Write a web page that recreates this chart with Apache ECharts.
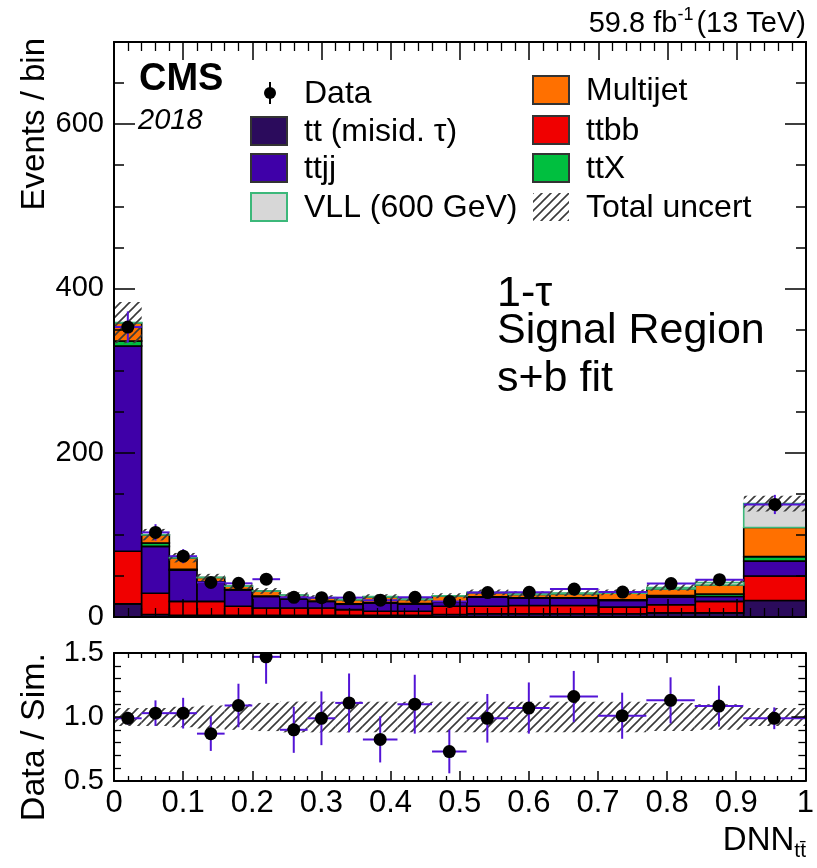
<!DOCTYPE html>
<html>
<head>
<meta charset="utf-8">
<script src="https://cdn.jsdelivr.net/npm/echarts@6/dist/echarts.min.js"></script>
<style>
  html, body { margin: 0; padding: 0; background: #ffffff; }
  #chart { width: 817px; height: 868px; }
</style>
</head>
<body>
<div id="chart"></div>
<script>
// ---- binning of the DNN output ----
const binEdges = [0, 0.04, 0.08, 0.12, 0.16, 0.20, 0.24, 0.28, 0.32, 0.36, 0.41, 0.46, 0.51, 0.57, 0.63, 0.70, 0.77, 0.84, 0.91, 1.0];

// ---- post-fit yields per bin (events / bin), stacked bottom to top ----
const ttMisid  = [16, 3, 2, 2, 2, 2, 2, 2, 2, 2, 2, 3, 4, 4, 4, 4, 5, 5, 20];
const ttbb     = [64, 26, 17, 17, 11, 9, 9, 9, 7, 5, 5, 10, 9, 10, 10, 8, 10, 14, 30];
const ttjj     = [250, 57, 38, 23, 20, 14, 11, 8, 6.5, 10, 9, 5, 11, 9, 9, 8, 9, 6, 18];
const ttX      = [6, 4, 1, 1, 0.5, 0.5, 0.5, 0.5, 0.5, 0.5, 0.5, 0.5, 0.5, 0.5, 0.5, 1, 2, 3, 5.5];
const multijet = [22, 10, 14, 5, 4, 6, 4, 4, 5, 7, 5, 7, 5, 4, 5, 8, 8, 11, 35.5];
const vll600   = [0.5, 0.2, 0.2, 0.2, 0.2, 0.2, 0.2, 0.2, 0.3, 0.3, 0.3, 0.3, 0.5, 0.5, 0.7, 1, 2, 3, 29];

// ---- observed data ----
const dataCounts = [353, 103, 74, 42, 41, 46, 24, 23.5, 23.6, 20.5, 24, 19, 29.7, 30, 34, 30.3, 40.7, 45.5, 137];
const dataErrors = [19, 10, 8.6, 6.5, 6.4, 6.8, 4.9, 4.9, 4.9, 4.5, 4.9, 4.4, 5.5, 5.5, 5.8, 5.5, 6.4, 6.7, 11.7];

// ---- relative total uncertainty of the prediction ----
const totalUncert = [0.07, 0.07, 0.08, 0.09, 0.10, 0.11, 0.12, 0.12, 0.12, 0.12, 0.12, 0.12, 0.12, 0.12, 0.12, 0.12, 0.11, 0.10, 0.07];

// ---- data / simulation ratio ----
const ratioValues = [0.99, 1.03, 1.03, 0.87, 1.09, 1.47, 0.90, 0.99, 1.11, 0.825, 1.10, 0.73, 0.99, 1.07, 1.16, 1.01, 1.13, 1.085, 0.99];
const ratioErrors = [0.05, 0.10, 0.12, 0.135, 0.17, 0.21, 0.18, 0.21, 0.23, 0.18, 0.23, 0.17, 0.19, 0.20, 0.20, 0.18, 0.18, 0.16, 0.085];

// ---- axis ticks ----
const mainYTicks = [0, 200, 400, 600];
const ratioYTicks = [0.5, 1.0, 1.5];

const FONT = '"Liberation Sans", Arial, Helvetica, sans-serif';
const ERR_COLOR = '#5314d6';

const processes = [
  { name: 'tt (misid. \u03c4)', values: ttMisid,  fill: '#2b0b5c', stroke: '#000000' },
  { name: 'ttbb',              values: ttbb,     fill: '#f00000', stroke: '#000000' },
  { name: 'ttjj',              values: ttjj,     fill: '#3f00a8', stroke: '#000000' },
  { name: 'ttX',               values: ttX,      fill: '#00bf3f', stroke: '#000000' },
  { name: 'Multijet',          values: multijet, fill: '#ff7000', stroke: '#000000' },
  { name: 'VLL (600 GeV)',     values: vll600,   fill: '#d7d7d7', stroke: '#3cb87a' }
];

const nBins = binEdges.length - 1;
const binLo = i => binEdges[i];
const binHi = i => binEdges[i + 1];
const binMid = i => (binEdges[i] + binEdges[i + 1]) / 2;

// hatch pattern for uncertainty bands ("////")
function makeHatch() {
  const s = 9;
  const c = document.createElement('canvas');
  c.width = s; c.height = s;
  const g = c.getContext('2d');
  g.strokeStyle = '#3a3a3a';
  g.lineWidth = 1.6;
  g.beginPath();
  g.moveTo(-1, s + 1); g.lineTo(s + 1, -1);
  g.moveTo(-1, 1); g.lineTo(1, -1);
  g.moveTo(s - 1, s + 1); g.lineTo(s + 1, s - 1);
  g.stroke();
  return c;
}
const hatchFill = { image: makeHatch(), repeat: 'repeat' };

function rectRenderer(fill, stroke, lineWidth) {
  return function (params, api) {
    const p0 = api.coord([api.value(0), api.value(3)]);
    const p1 = api.coord([api.value(1), api.value(2)]);
    return {
      type: 'rect',
      shape: { x: p0[0], y: p0[1], width: p1[0] - p0[0], height: p1[1] - p0[1] },
      style: { fill: fill, stroke: stroke, lineWidth: lineWidth }
    };
  };
}

function pointRenderer(params, api) {
  const xl = api.value(0), xh = api.value(1), xc = api.value(2);
  const y = api.value(3), e = api.value(4);
  const pl = api.coord([xl, y]), ph = api.coord([xh, y]);
  const pt = api.coord([xc, y + e]), pb = api.coord([xc, y - e]);
  const pc = api.coord([xc, y]);
  return {
    type: 'group',
    children: [
      { type: 'line', shape: { x1: pl[0], y1: pl[1], x2: ph[0], y2: ph[1] }, style: { stroke: ERR_COLOR, lineWidth: 2 } },
      { type: 'line', shape: { x1: pt[0], y1: pt[1], x2: pb[0], y2: pb[1] }, style: { stroke: ERR_COLOR, lineWidth: 2 } },
      { type: 'circle', shape: { cx: pc[0], cy: pc[1], r: 6.5 }, style: { fill: '#000000' } }
    ]
  };
}

// ---- build series ----
const series = [];
const base = new Array(nBins).fill(0);
processes.forEach(p => {
  const rows = [];
  for (let i = 0; i < nBins; i++) {
    rows.push([binLo(i), binHi(i), base[i], base[i] + p.values[i]]);
    base[i] += p.values[i];
  }
  series.push({
    type: 'custom', name: p.name, xAxisIndex: 0, yAxisIndex: 0,
    renderItem: rectRenderer(p.fill, p.stroke, 1.6),
    encode: { x: [0, 1], y: [2, 3] }, data: rows, z: 2, clip: true
  });
});
const totals = base.slice();

series.push({
  type: 'custom', name: 'Total uncert', xAxisIndex: 0, yAxisIndex: 0,
  renderItem: rectRenderer(hatchFill, null, 0),
  encode: { x: [0, 1], y: [2, 3] },
  data: totals.map((t, i) => [binLo(i), binHi(i), t * (1 - totalUncert[i]), t * (1 + totalUncert[i])]),
  z: 3, clip: true
});
series.push({
  type: 'custom', name: 'Data', xAxisIndex: 0, yAxisIndex: 0,
  renderItem: pointRenderer, encode: { x: [0, 1], y: 3 },
  data: dataCounts.map((d, i) => [binLo(i), binHi(i), binMid(i), d, dataErrors[i]]),
  z: 4, clip: true
});
series.push({
  type: 'custom', name: 'Ratio uncert', xAxisIndex: 2, yAxisIndex: 4,
  renderItem: rectRenderer(hatchFill, null, 0),
  encode: { x: [0, 1], y: [2, 3] },
  data: totalUncert.map((u, i) => [binLo(i), binHi(i), 1 - u, 1 + u]),
  z: 3, clip: true
});
series.push({
  type: 'custom', name: 'Ratio', xAxisIndex: 2, yAxisIndex: 4,
  renderItem: pointRenderer, encode: { x: [0, 1], y: 3 },
  data: ratioValues.map((r, i) => [binLo(i), binHi(i), binMid(i), r, ratioErrors[i]]),
  z: 4, clip: true
});

// ---- axes ----
const black = { color: '#000000', width: 2 };
function xAxisDef(grid, position, showLabels, major, minor) {
  return {
    type: 'value', gridIndex: grid, position: position, min: 0, max: 1, interval: 0.1, z: 10,
    axisLine: { show: true, onZero: false, lineStyle: black },
    axisTick: { show: true, inside: true, length: major, lineStyle: { color: '#000', width: 1.5 } },
    minorTick: { show: true, splitNumber: 5, length: minor, lineStyle: { color: '#000', width: 1.3 } },
    splitLine: { show: false },
    axisLabel: { show: showLabels, color: '#000', fontFamily: FONT, fontSize: 31, margin: 7,
                 formatter: v => (v === 0 ? '0' : v === 1 ? '1' : v.toFixed(1)) }
  };
}
function yAxisDef(grid, position, min, max, interval, showLabels, major, minorSplit, minorLen, labelTicks, decimals) {
  return {
    type: 'value', gridIndex: grid, position: position, min: min, max: max, interval: interval, z: 10,
    axisLine: { show: true, onZero: false, lineStyle: black },
    axisTick: { show: major > 0, inside: true, length: major, lineStyle: { color: '#000', width: 1.5 } },
    minorTick: { show: minorSplit > 0, splitNumber: minorSplit || 1, length: minorLen, lineStyle: { color: '#000', width: 1.3 } },
    splitLine: { show: false },
    axisLabel: {
      show: showLabels, color: '#000', fontFamily: FONT, fontSize: 29, margin: 10,
      formatter: v => {
        const hit = labelTicks.find(t => Math.abs(t - v) < 1e-6);
        return hit === undefined ? '' : hit.toFixed(decimals);
      }
    }
  };
}

const option = {
  animation: false,
  backgroundColor: '#ffffff',
  grid: [
    { left: 114, top: 42, width: 692, height: 575, show: false },
    { left: 114, top: 653, width: 692, height: 128, show: false }
  ],
  xAxis: [
    xAxisDef(0, 'bottom', false, 18, 9),
    xAxisDef(0, 'top', false, 18, 9),
    xAxisDef(1, 'bottom', true, 10, 5),
    xAxisDef(1, 'top', false, 10, 5)
  ],
  yAxis: [
    // main panel: long ticks every 200, short ticks every 50
    yAxisDef(0, 'left', 0, 700, 200, true, 21, 0, 0, mainYTicks, 0),
    yAxisDef(0, 'right', 0, 700, 200, false, 21, 0, 0, mainYTicks, 0),
    yAxisDef(0, 'left', 0, 700, 50, false, 10, 0, 0, [], 0),
    yAxisDef(0, 'right', 0, 700, 50, false, 10, 0, 0, [], 0),
    // ratio panel
    yAxisDef(1, 'left', 0.5, 1.5, 0.5, true, 14, 5, 7, ratioYTicks, 1),
    yAxisDef(1, 'right', 0.5, 1.5, 0.5, false, 14, 5, 7, ratioYTicks, 1)
  ],
  series: series,
  graphic: []
};

// ---- annotation texts and legend ----
const g = option.graphic;
g.push({
  type: 'text', x: 806, y: 22, z: 20,
  style: {
    text: '{a|59.8 fb}{s|-1}{a|(13 TeV)}', align: 'right', verticalAlign: 'middle',
    rich: {
      a: { fontFamily: FONT, fontSize: 29, fill: '#000', lineHeight: 32, verticalAlign: 'bottom' },
      s: { fontFamily: FONT, fontSize: 18, fill: '#000', lineHeight: 32, verticalAlign: 'top', padding: [0, 3, 0, 0] }
    }
  }
});
g.push({ type: 'text', x: 139, y: 80, z: 20, style: { text: 'CMS', fontFamily: FONT, fontWeight: 'bold', fontSize: 38, fill: '#000', verticalAlign: 'middle' } });
g.push({ type: 'text', x: 138, y: 121, z: 20, style: { text: '2018', fontFamily: FONT, fontStyle: 'italic', fontSize: 29, fill: '#000', verticalAlign: 'middle' } });

g.push({ type: 'text', x: 497, y: 294, z: 20, style: { text: '1-\u03c4', fontFamily: FONT, fontSize: 43, fill: '#000', verticalAlign: 'middle' } });
g.push({ type: 'text', x: 497, y: 331, z: 20, style: { text: 'Signal Region', fontFamily: FONT, fontSize: 43, fill: '#000', verticalAlign: 'middle' } });
g.push({ type: 'text', x: 497, y: 379, z: 20, style: { text: 's+b fit', fontFamily: FONT, fontSize: 43, fill: '#000', verticalAlign: 'middle' } });

// axis titles
g.push({ type: 'text', x: 35, y: 38, rotation: Math.PI / 2, z: 20,
  style: { text: 'Events / bin', fontFamily: FONT, fontSize: 33, fill: '#000', align: 'right', verticalAlign: 'middle' } });
g.push({ type: 'text', x: 35, y: 653, rotation: Math.PI / 2, z: 20,
  style: { text: 'Data / Sim.', fontFamily: FONT, fontSize: 34, fill: '#000', align: 'right', verticalAlign: 'middle' } });
g.push({ type: 'text', x: 806, y: 843, z: 20,
  style: {
    text: '{a|DNN}{s|t\u0074\u0304}', align: 'right', verticalAlign: 'middle',
    rich: {
      a: { fontFamily: FONT, fontSize: 33, fill: '#000', lineHeight: 38, verticalAlign: 'top' },
      s: { fontFamily: FONT, fontSize: 21, fill: '#000', lineHeight: 38, verticalAlign: 'bottom' }
    }
  } });

// legend
const legendFont = { fontFamily: FONT, fontSize: 32, fill: '#000', verticalAlign: 'middle' };
function legendBox(x, y, fill, stroke, label) {
  g.push({ type: 'rect', x: x, y: y - 14, z: 20, shape: { width: 36, height: 28 }, style: { fill: fill, stroke: stroke, lineWidth: 2 } });
  g.push({ type: 'text', x: x + 53, y: y + 1, z: 20, style: Object.assign({ text: label }, legendFont) });
}
// Data marker
g.push({ type: 'line', z: 20, shape: { x1: 270, y1: 82, x2: 270, y2: 104 }, style: { stroke: '#000', lineWidth: 2 } });
g.push({ type: 'circle', z: 20, shape: { cx: 270, cy: 93, r: 6 }, style: { fill: '#000' } });
g.push({ type: 'text', x: 304, y: 94, z: 20, style: Object.assign({ text: 'Data' }, legendFont) });
legendBox(251, 131, processes[0].fill, '#333', processes[0].name);
legendBox(251, 168, processes[2].fill, '#333', processes[2].name);
legendBox(251, 207, processes[5].fill, processes[5].stroke, processes[5].name);
legendBox(533, 90, processes[4].fill, '#333', processes[4].name);
legendBox(533, 130, processes[1].fill, '#333', processes[1].name);
legendBox(533, 168, processes[3].fill, '#333', processes[3].name);
g.push({ type: 'rect', x: 533, y: 193, z: 20, shape: { width: 36, height: 28 }, style: { fill: hatchFill } });
g.push({ type: 'text', x: 586, y: 208, z: 20, style: Object.assign({ text: 'Total uncert' }, legendFont) });

const chart = echarts.init(document.getElementById('chart'), null, { renderer: 'canvas' });
chart.setOption(option);
</script>
</body>
</html>
